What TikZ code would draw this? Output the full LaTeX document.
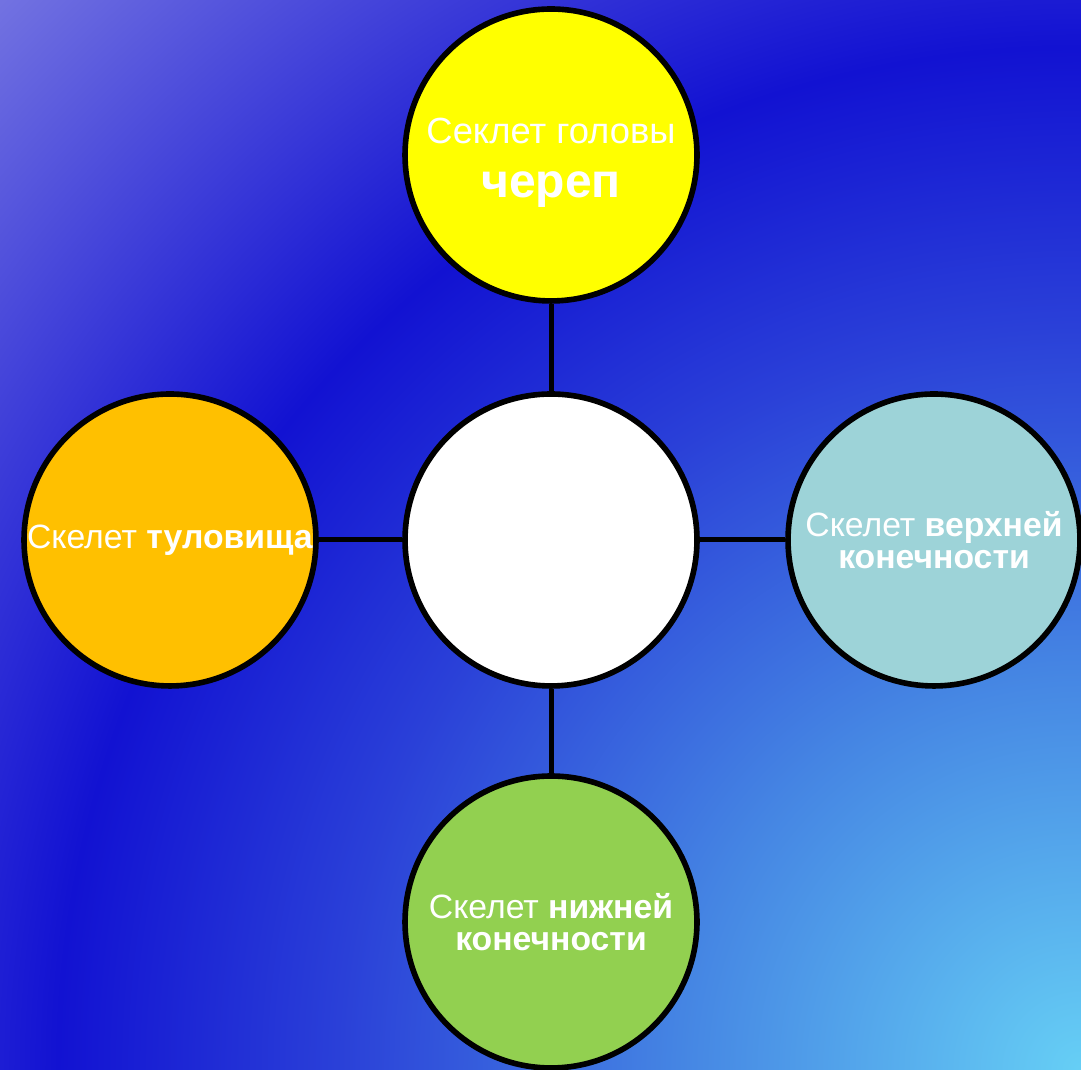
\documentclass[tikz,border=0pt]{standalone}
\usepackage{fontspec}
\setmainfont{Liberation Sans}

\definecolor{skyA}{HTML}{66CFF5}
\definecolor{skyB}{HTML}{4585E3}
\definecolor{skyC}{HTML}{2A40D8}
\definecolor{skyD}{HTML}{1212D2}
\definecolor{skyE}{HTML}{7878E2}
\definecolor{headfill}{HTML}{FFFF00}
\definecolor{trunkfill}{HTML}{FFC000}
\definecolor{armfill}{HTML}{9DD3D8}
\definecolor{legfill}{HTML}{92D050}

\pgfdeclareradialshading{skyshade}{\pgfpointorigin}{color(0bp)=(skyA); color(6.5bp)=(skyB); color(12bp)=(skyC); color(16.5bp)=(skyD); color(25bp)=(skyE); color(50bp)=(skyE)}

\begin{document}
\begin{tikzpicture}[x=0.02cm,y=0.02cm,
  bone/.style={circle,draw=black,line width=3.2pt,minimum size=5.84cm,inner sep=0pt,
    text=white,align=center,font=\fontsize{19.2}{18.6}\selectfont},
  link/.style={draw=black,line width=2.85pt}]

% Background
\useasboundingbox (0,0) rectangle (1081,1070);
\begin{scope}
  \clip (0,0) rectangle (1081,1070);
  \shade[shading=skyshade] (1081,0) circle (1550);
\end{scope}

% Circles
\node[bone,fill=white] (core) at (551,530) {};
\node[bone,fill=headfill] (head) at (551,915) {};
\node[text=white,align=center,font=\fontsize{20.7}{31}\selectfont] (headtext) at (551,907)
  {Секлет головы\\{\fontsize{27.3}{31}\selectfont\bfseries череп}};
\node[bone,fill=trunkfill] (trunk) at (170,530) {Скелет \textbf{туловища}};
\node[bone,fill=armfill] (arm) at (934,530) {Скелет \textbf{верхней}\\\textbf{конечности}};
\node[bone,fill=legfill] (leg) at (551,148) {Скелет \textbf{нижней}\\\textbf{конечности}};

% Links
\draw[link] (head) -- (core);
\draw[link] (trunk) -- (core);
\draw[link] (arm) -- (core);
\draw[link] (leg) -- (core);

\end{tikzpicture}
\end{document}
